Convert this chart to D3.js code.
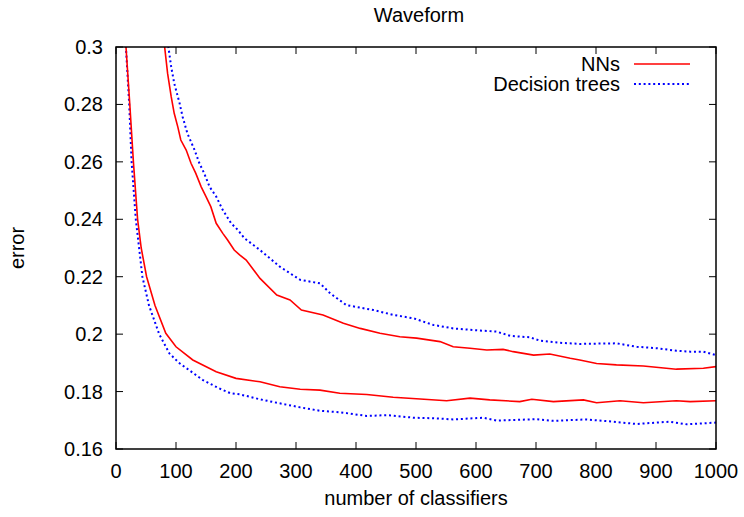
<!DOCTYPE html>
<html>
<head>
<meta charset="utf-8">
<script src="https://cdn.jsdelivr.net/npm/d3@7"></script>
<style>
  body { margin: 0; background: #fff; }
  svg text { font-family: "Liberation Sans", Arial, sans-serif; fill: #000; }
</style>
</head>
<body>
<svg id="chart" width="744" height="517"></svg>
<script>
// x: number of classifiers, y: error
const nnLowN   = [16, 23, 29, 36, 42, 51, 65, 83, 100, 128, 167, 200, 240, 273, 307, 340, 373, 418, 462, 507, 551, 590, 623, 673, 693, 729, 779, 801, 840, 879, 934, 957, 1000];
const nnLowErr = [0.302, 0.28, 0.26, 0.24, 0.23, 0.22, 0.21, 0.2003, 0.1956, 0.191, 0.1869, 0.1846, 0.1834, 0.1817, 0.1808, 0.1805, 0.1794, 0.179, 0.178, 0.1774, 0.1768, 0.1777, 0.1771, 0.1765, 0.1773, 0.1765, 0.1771, 0.1761, 0.1768, 0.1761, 0.1768, 0.1765, 0.1768];

const nnHighN   = [80, 86, 92, 97, 103, 108, 117, 125, 133, 142, 150, 158, 167, 178, 186, 197, 206, 217, 240, 268, 290, 309, 345, 379, 407, 440, 473, 501, 540, 562, 590, 618, 645, 662, 696, 723, 757, 773, 801, 834, 879, 934, 979, 1000];
const nnHighErr = [0.302, 0.2908, 0.2827, 0.2769, 0.2722, 0.2676, 0.2641, 0.2595, 0.256, 0.2513, 0.2479, 0.2444, 0.2386, 0.2351, 0.2328, 0.2293, 0.2276, 0.2258, 0.2194, 0.2136, 0.2119, 0.2084, 0.2067, 0.2038, 0.202, 0.2003, 0.1991, 0.1986, 0.1974, 0.1956, 0.1951, 0.1945, 0.1947, 0.1939, 0.1927, 0.1931, 0.1916, 0.191, 0.1898, 0.1893, 0.1889, 0.1878, 0.1881, 0.1887];

const dtLowN   = [16, 22, 26, 33, 44, 55, 72, 89, 105, 145, 172, 191, 207, 240, 273, 307, 340, 373, 418, 451, 496, 529, 562, 596, 612, 634, 701, 729, 784, 829, 868, 901, 923, 951, 1000];
const dtLowErr = [0.302, 0.28, 0.26, 0.24, 0.22, 0.21, 0.2, 0.1933, 0.19, 0.184, 0.1811, 0.1794, 0.179, 0.1773, 0.1759, 0.1745, 0.1733, 0.1728, 0.1715, 0.1718, 0.1709, 0.1707, 0.1703, 0.1707, 0.1709, 0.1699, 0.1704, 0.1698, 0.1703, 0.1695, 0.1687, 0.1692, 0.1695, 0.1686, 0.1692];

const dtHighN   = [86, 92, 97, 106, 111, 119, 131, 139, 147, 156, 167, 178, 192, 203, 214, 240, 273, 307, 340, 357, 384, 429, 462, 496, 529, 562, 596, 634, 657, 690, 707, 740, 773, 834, 868, 901, 934, 957, 979, 1000];
const dtHighErr = [0.302, 0.2931, 0.2874, 0.2804, 0.2757, 0.2699, 0.2641, 0.2595, 0.256, 0.2513, 0.2479, 0.2432, 0.2386, 0.2363, 0.2334, 0.2293, 0.2235, 0.2189, 0.2177, 0.2142, 0.2101, 0.2084, 0.2067, 0.2055, 0.2032, 0.202, 0.2014, 0.2009, 0.1994, 0.1989, 0.1977, 0.197, 0.1966, 0.1968, 0.1956, 0.1951, 0.1942, 0.1939, 0.1939, 0.1927];

const xTicks = [0, 100, 200, 300, 400, 500, 600, 700, 800, 900, 1000];
const yTicks = [0.16, 0.18, 0.2, 0.22, 0.24, 0.26, 0.28, 0.3];
const yTickLabels = ['0.16', '0.18', '0.2', '0.22', '0.24', '0.26', '0.28', '0.3'];

const margin = { left: 116, right: 716, top: 47, bottom: 449 };

const svg = d3.select('#chart');
const x = d3.scaleLinear().domain([0, 1000]).range([margin.left, margin.right]);
const y = d3.scaleLinear().domain([0.16, 0.3]).range([margin.bottom, margin.top]);

svg.append('clipPath').attr('id', 'plotClip')
  .append('rect')
  .attr('x', margin.left).attr('y', margin.top)
  .attr('width', margin.right - margin.left).attr('height', margin.bottom - margin.top);

const tickLen = 7;
const axisG = svg.append('g').attr('stroke', '#000').attr('stroke-width', 1);

// ticks on all four sides, pointing inward
xTicks.forEach(t => {
  axisG.append('line').attr('x1', x(t)).attr('x2', x(t)).attr('y1', margin.bottom).attr('y2', margin.bottom - tickLen);
  axisG.append('line').attr('x1', x(t)).attr('x2', x(t)).attr('y1', margin.top).attr('y2', margin.top + tickLen);
});
yTicks.forEach(t => {
  axisG.append('line').attr('x1', margin.left).attr('x2', margin.left + tickLen).attr('y1', y(t)).attr('y2', y(t));
  axisG.append('line').attr('x1', margin.right).attr('x2', margin.right - tickLen).attr('y1', y(t)).attr('y2', y(t));
});

svg.selectAll('.xlab').data(xTicks).join('text')
  .attr('class', 'xlab')
  .attr('x', d => x(d)).attr('y', 478)
  .attr('text-anchor', 'middle')
  .attr('font-size', 20)
  .text(d => d);

svg.selectAll('.ylab').data(yTicks).join('text')
  .attr('class', 'ylab')
  .attr('x', 103).attr('y', d => y(d) + 7)
  .attr('text-anchor', 'end')
  .attr('font-size', 20)
  .text((d, i) => yTickLabels[i]);

const line = d3.line().x(d => x(d[0])).y(d => y(d[1]));
const plotG = svg.append('g').attr('clip-path', 'url(#plotClip)');

function series(ns, errs) { return ns.map((n, i) => [n, errs[i]]); }

const solid = { stroke: '#ff0000', width: 1.6, dash: null };
const dotted = { stroke: '#0000ff', width: 2, dash: '2,2.8' };

[[dtHighN, dtHighErr, dotted], [dtLowN, dtLowErr, dotted],
 [nnHighN, nnHighErr, solid], [nnLowN, nnLowErr, solid]].forEach(([ns, errs, st]) => {
  plotG.append('path')
    .attr('d', line(series(ns, errs)))
    .attr('fill', 'none')
    .attr('stroke', st.stroke)
    .attr('stroke-width', st.width)
    .attr('stroke-dasharray', st.dash);
});

// frame
svg.append('rect')
  .attr('x', margin.left).attr('y', margin.top)
  .attr('width', margin.right - margin.left).attr('height', margin.bottom - margin.top)
  .attr('fill', 'none').attr('stroke', '#000').attr('stroke-width', 1.5);

// legend
const legend = [
  { label: 'NNs', st: solid, y: 64 },
  { label: 'Decision trees', st: dotted, y: 84 }
];
legend.forEach(l => {
  svg.append('text').attr('x', 620).attr('y', l.y + 7).attr('text-anchor', 'end')
    .attr('font-size', 20).text(l.label);
  svg.append('line').attr('x1', 634).attr('x2', 690).attr('y1', l.y).attr('y2', l.y)
    .attr('stroke', l.st.stroke).attr('stroke-width', l.st.width)
    .attr('stroke-dasharray', l.st.dash);
});

svg.append('text').attr('x', 419).attr('y', 22).attr('text-anchor', 'middle')
  .attr('font-size', 20).text('Waveform');

svg.append('text').attr('x', 416).attr('y', 505).attr('text-anchor', 'middle')
  .attr('font-size', 20).text('number of classifiers');

svg.append('text').attr('transform', 'translate(24,248) rotate(-90)')
  .attr('text-anchor', 'middle').attr('font-size', 20).text('error');
</script>
</body>
</html>
